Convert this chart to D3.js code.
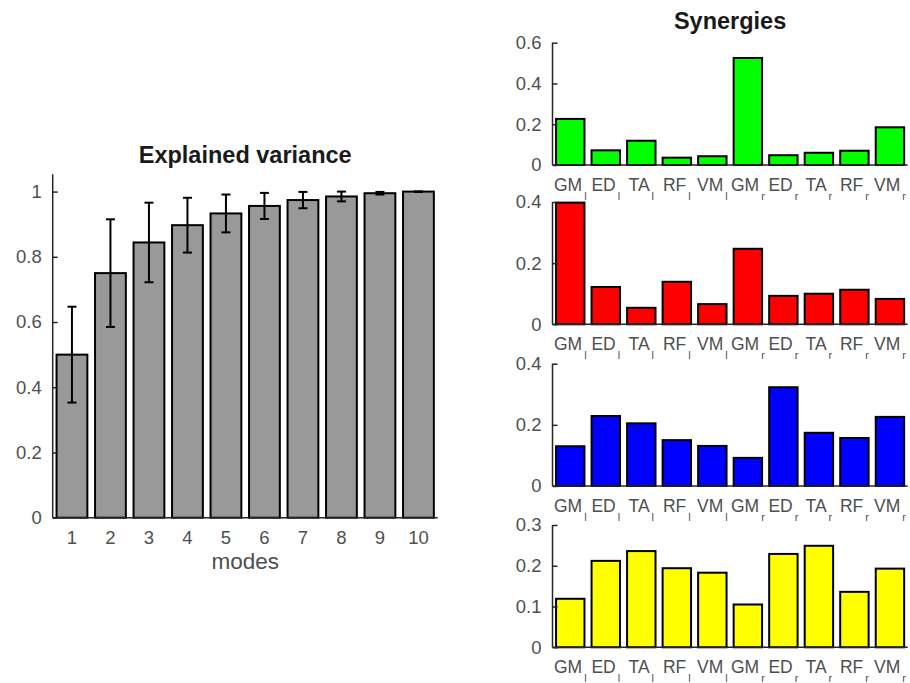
<!DOCTYPE html>
<html>
<head>
<meta charset="utf-8">
<script src="https://cdn.jsdelivr.net/npm/d3@7"></script>
<style>
  html, body { margin: 0; padding: 0; background: #fff; }
  svg { display: block; font-family: "Liberation Sans", Arial, Helvetica, sans-serif; }
</style>
</head>
<body>
<svg id="chart" width="910" height="683"></svg>
<script>
// ---------- data ----------
const modes = [1, 2, 3, 4, 5, 6, 7, 8, 9, 10];
const explained = [0.50, 0.75, 0.844, 0.897, 0.933, 0.956, 0.974, 0.985, 0.995, 1.0];
const explainedErr = [0.147, 0.165, 0.122, 0.084, 0.058, 0.040, 0.025, 0.015, 0.004, 0.001];
const explainedTicks = [0, 0.2, 0.4, 0.6, 0.8, 1];

const muscles = ["GM", "ED", "TA", "RF", "VM", "GM", "ED", "TA", "RF", "VM"];
const sides = ["l", "l", "l", "l", "l", "r", "r", "r", "r", "r"];

const synergyGreen = [0.226, 0.072, 0.119, 0.036, 0.043, 0.525, 0.048, 0.060, 0.070, 0.185];
const synergyRed = [0.398, 0.122, 0.054, 0.139, 0.066, 0.247, 0.093, 0.100, 0.113, 0.083];
const synergyBlue = [0.130, 0.229, 0.205, 0.150, 0.131, 0.092, 0.323, 0.174, 0.157, 0.226];
const synergyYellow = [0.119, 0.212, 0.236, 0.194, 0.183, 0.105, 0.229, 0.249, 0.136, 0.193];

const synergyColors = ["#00ff00", "#ff0000", "#0000ff", "#ffff00"];
const synergyMax = [0.6, 0.4, 0.4, 0.3];
const synergyTicks = [[0, 0.2, 0.4, 0.6], [0, 0.2, 0.4], [0, 0.2, 0.4], [0, 0.1, 0.2, 0.3]];

// ---------- helpers ----------
const svg = d3.select("#chart");
const tickColor = "#4f4f4f";
const axisColor = "#262626";
const tickFont = 18.5;
const titleFont = 23.5;

function drawYAxis(g, y, ticks, x0, fmt) {
  const ax = d3.axisLeft(y).tickValues(ticks).tickSize(-5).tickPadding(11).tickFormat(fmt);
  const a = g.append("g").attr("transform", `translate(${x0},0)`).call(ax);
  a.select(".domain").remove();
  a.selectAll(".tick line").attr("stroke", axisColor).attr("stroke-width", 1.5);
  a.selectAll(".tick text").attr("fill", tickColor).style("font-size", tickFont + "px")
    .style("font-family", "Liberation Sans, Arial, sans-serif");
  return a;
}
const fmtNum = d => d === 0 ? "0" : (d === 1 ? "1" : d3.format(".1f")(d));

// ---------- left: explained variance ----------
{
  const left = 52.7, right = 437.7, y0 = 517.7, yTop = 174.3;
  const x = d3.scaleBand().domain(modes).range([left, right]).paddingInner(0.2).paddingOuter(0.1);
  const y = d3.scaleLinear().domain([0, 1.053]).range([y0, yTop]);
  const g = svg.append("g");

  g.selectAll("rect.bar").data(modes).enter().append("rect")
    .attr("class", "bar")
    .attr("x", d => x(d))
    .attr("width", x.bandwidth())
    .attr("y", (d, i) => y(explained[i]))
    .attr("height", (d, i) => y0 - y(explained[i]))
    .attr("fill", "#999999").attr("stroke", "#000").attr("stroke-width", 2);

  // error bars
  const eb = g.selectAll("g.err").data(modes).enter().append("g").attr("class", "err");
  const cx = d => x(d) + x.bandwidth() / 2;
  eb.append("line")
    .attr("x1", cx).attr("x2", cx)
    .attr("y1", (d, i) => y(explained[i] - explainedErr[i]))
    .attr("y2", (d, i) => y(Math.min(explained[i] + explainedErr[i], 1.0005)))
    .attr("stroke", "#000").attr("stroke-width", 2);
  [(v, e) => v - e, (v, e) => Math.min(v + e, 1.0005)].forEach(f => {
    eb.append("line")
      .attr("x1", d => cx(d) - 4.5).attr("x2", d => cx(d) + 4.5)
      .attr("y1", (d, i) => y(f(explained[i], explainedErr[i])))
      .attr("y2", (d, i) => y(f(explained[i], explainedErr[i])))
      .attr("stroke", "#000").attr("stroke-width", 2);
  });

  // axes lines
  g.append("line").attr("x1", left).attr("x2", left).attr("y1", y0).attr("y2", yTop)
    .attr("stroke", axisColor).attr("stroke-width", 1.5);
  g.append("line").attr("x1", left).attr("x2", right).attr("y1", y0).attr("y2", y0)
    .attr("stroke", axisColor).attr("stroke-width", 1.5);

  drawYAxis(g, y, explainedTicks, left, fmtNum);

  // x tick labels
  g.selectAll("text.xt").data(modes).enter().append("text")
    .attr("class", "xt")
    .attr("x", d => cx(d)).attr("y", y0 + 26)
    .attr("text-anchor", "middle").attr("fill", tickColor)
    .style("font-size", tickFont + "px")
    .text(d => d);

  g.append("text").attr("x", (left + right) / 2).attr("y", 569)
    .attr("text-anchor", "middle").attr("fill", tickColor)
    .style("font-size", "22.5px").text("modes");

  g.append("text").attr("x", (left + right) / 2).attr("y", 162.5)
    .attr("text-anchor", "middle").attr("fill", "#1a1a1a")
    .style("font-size", titleFont + "px").style("font-weight", "bold").text("Explained variance");
}

// ---------- right: synergies ----------
{
  const left = 552.5, right = 907.7;
  const series = [synergyGreen, synergyRed, synergyBlue, synergyYellow];
  const baseY = [165, 324.3, 486, 647.3];
  const idx = d3.range(muscles.length);
  const x = d3.scaleBand().domain(idx).range([left, right]).paddingInner(0.2).paddingOuter(0.1);

  series.forEach((vals, k) => {
    const y0 = baseY[k];
    const y = d3.scaleLinear().domain([0, synergyMax[k]]).range([y0, y0 - 122.3]);
    const g = svg.append("g");

    g.selectAll("rect").data(idx).enter().append("rect")
      .attr("x", d => x(d)).attr("width", x.bandwidth())
      .attr("y", d => y(vals[d])).attr("height", d => y0 - y(vals[d]))
      .attr("fill", synergyColors[k]).attr("stroke", "#000").attr("stroke-width", 2);

    g.append("line").attr("x1", left).attr("x2", left).attr("y1", y0).attr("y2", y(synergyMax[k]))
      .attr("stroke", axisColor).attr("stroke-width", 1.5);
    g.append("line").attr("x1", left).attr("x2", right).attr("y1", y0).attr("y2", y0)
      .attr("stroke", axisColor).attr("stroke-width", 1.5);

    drawYAxis(g, y, synergyTicks[k], left, fmtNum);

    const t = g.selectAll("text.xt").data(idx).enter().append("text")
      .attr("class", "xt")
      .attr("x", d => x(d) + x.bandwidth() / 2).attr("y", y0 + 26)
      .attr("text-anchor", "middle").attr("fill", tickColor)
      .style("font-size", "17.5px");
    t.append("tspan").text(d => muscles[d]);
    t.append("tspan").attr("dx", 2).attr("dy", 9).style("font-size", "11px").text(d => sides[d]);

    if (k === 0) {
      g.append("text").attr("x", (left + right) / 2).attr("y", 28.5)
        .attr("text-anchor", "middle").attr("fill", "#1a1a1a")
        .style("font-size", titleFont + "px").style("font-weight", "bold").text("Synergies");
    }
  });
}
</script>
</body>
</html>
